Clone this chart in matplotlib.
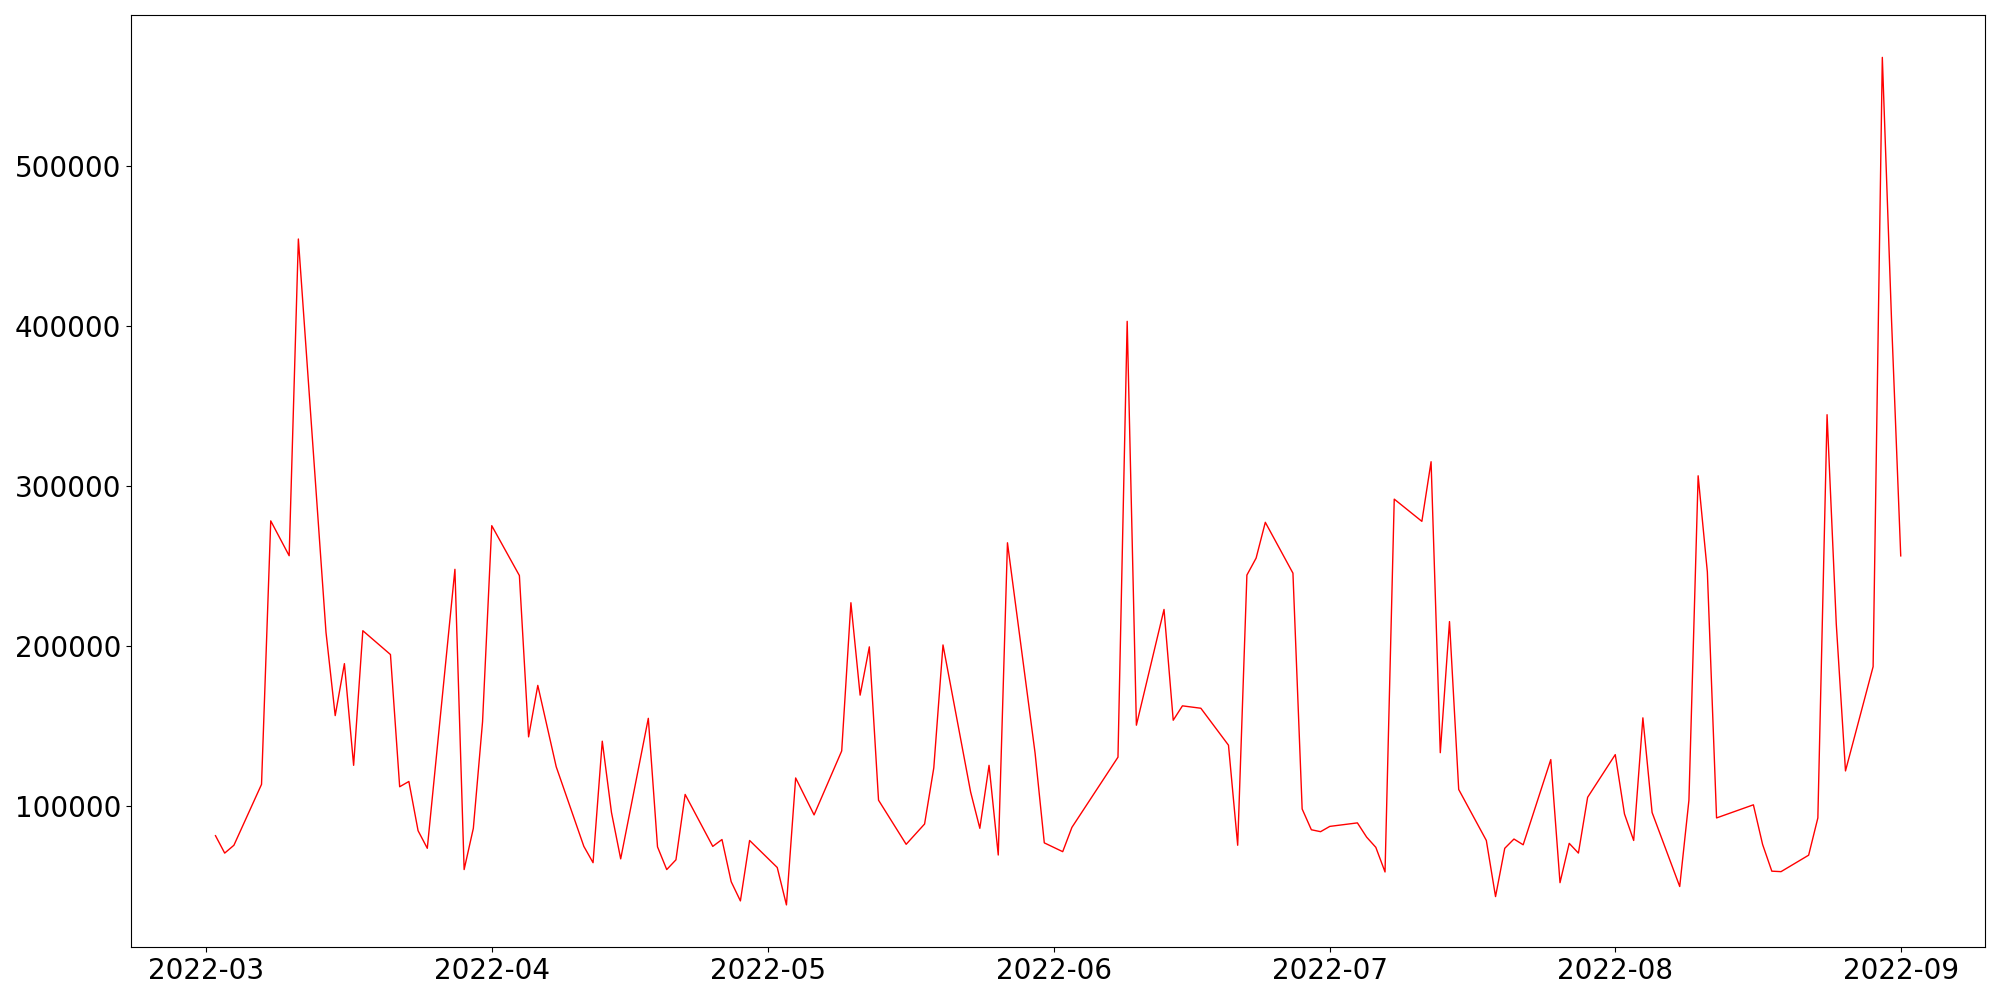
import pandas as pd
import matplotlib
import matplotlib.pyplot as plt
matplotlib.use('Agg')

dates = [
    '2022-03-02', '2022-03-03', '2022-03-04', '2022-03-07', '2022-03-08', '2022-03-10',
    '2022-03-11', '2022-03-14', '2022-03-15', '2022-03-16', '2022-03-17', '2022-03-18',
    '2022-03-21', '2022-03-22', '2022-03-23', '2022-03-24', '2022-03-25', '2022-03-28',
    '2022-03-29', '2022-03-30', '2022-03-31', '2022-04-01', '2022-04-04', '2022-04-05',
    '2022-04-06', '2022-04-08', '2022-04-11', '2022-04-12', '2022-04-13', '2022-04-14',
    '2022-04-15', '2022-04-18', '2022-04-19', '2022-04-20', '2022-04-21', '2022-04-22',
    '2022-04-25', '2022-04-26', '2022-04-27', '2022-04-28', '2022-04-29', '2022-05-02',
    '2022-05-03', '2022-05-04', '2022-05-06', '2022-05-09', '2022-05-10', '2022-05-11',
    '2022-05-12', '2022-05-13', '2022-05-16', '2022-05-18', '2022-05-19', '2022-05-20',
    '2022-05-23', '2022-05-24', '2022-05-25', '2022-05-26', '2022-05-27', '2022-05-30',
    '2022-05-31', '2022-06-02', '2022-06-03', '2022-06-08', '2022-06-09', '2022-06-10',
    '2022-06-13', '2022-06-14', '2022-06-15', '2022-06-17', '2022-06-20', '2022-06-21',
    '2022-06-22', '2022-06-23', '2022-06-24', '2022-06-27', '2022-06-28', '2022-06-29',
    '2022-06-30', '2022-07-01', '2022-07-04', '2022-07-05', '2022-07-06', '2022-07-07',
    '2022-07-08', '2022-07-11', '2022-07-12', '2022-07-13', '2022-07-14', '2022-07-15',
    '2022-07-18', '2022-07-19', '2022-07-20', '2022-07-21', '2022-07-22', '2022-07-25',
    '2022-07-26', '2022-07-27', '2022-07-28', '2022-07-29', '2022-08-01', '2022-08-02',
    '2022-08-03', '2022-08-04', '2022-08-05', '2022-08-08', '2022-08-09', '2022-08-10',
    '2022-08-11', '2022-08-12', '2022-08-16', '2022-08-17', '2022-08-18', '2022-08-19',
    '2022-08-22', '2022-08-23', '2022-08-24', '2022-08-25', '2022-08-26', '2022-08-29',
    '2022-08-30', '2022-08-31', '2022-09-01',
]

volume = [
    81200, 70300, 75200, 113300, 278100, 256300,
    454400, 208400, 156300, 188800, 125200, 209400,
    194500, 111800, 115100, 84300, 73300, 247800,
    60000, 85800, 152400, 275100, 243900, 143000,
    175200, 124300, 74500, 64300, 140300, 95700,
    66700, 154600, 74200, 60000, 66100, 107000,
    74500, 78800, 52400, 40400, 78200, 61300,
    37900, 117300, 94200, 134200, 226900, 169100,
    199300, 103400, 75800, 88500, 123600, 200500,
    108500, 85800, 125200, 69100, 264400, 132800,
    76700, 71200, 86400, 130300, 402900, 150300,
    222700, 153400, 162400, 160900, 137800, 75200,
    244200, 254800, 277200, 245400, 97900, 84900,
    83700, 87000, 89200, 80300, 73900, 58500,
    291700, 277800, 315100, 133100, 215100, 110100,
    78200, 43100, 73300, 79100, 75500, 128800,
    51800, 76400, 70300, 105200, 131900, 94800,
    78200, 154900, 95700, 49400, 103400, 306300,
    246200, 92300, 100500, 75700, 59000, 58700,
    69000, 92300, 344500, 213600, 121700, 186900,
    568000, 403700, 256200,
]

df = pd.DataFrame({'date': pd.to_datetime(dates), 'volume': volume})

fig, ax = plt.subplots(figsize=(20, 10), dpi=100)
ax.plot(df['date'], df['volume'], color='red', linewidth=1)
ax.tick_params(labelsize=20)
plt.tight_layout()
plt.savefig('out.png')
